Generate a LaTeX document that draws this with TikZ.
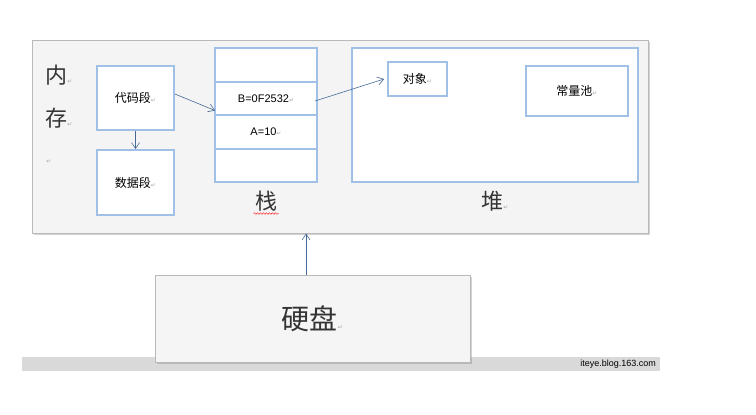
\documentclass[tikz,border=0pt]{standalone}
\usepackage{fontspec}
\setmainfont{Liberation Sans}
\newfontfamily\cjk{Noto Sans CJK SC}
\newfontfamily\dejavu{DejaVu Sans}
\usepackage{xcolor}
\usetikzlibrary{
arrows.meta,
positioning,
shadows,
decorations.pathmorphing
}

\definecolor{boxblue}{RGB}{160,192,232}
\definecolor{arrowblue}{RGB}{70,105,150}
\definecolor{panelgray}{RGB}{244,244,244}
\newcommand{\retmark}{\textcolor{gray!70}{\dejavu\fontsize{6}{6}\selectfont ↵}}

\begin{document}
\begin{tikzpicture}[
x=1pt,y=-1pt,
panel/.style={
draw=gray!55,
fill=panelgray,
line width=1pt,
drop shadow={shadow xshift=1.5pt,shadow yshift=-1.5pt,opacity=0.35}
},
bluebox/.style={
draw=boxblue,
line width=1.8pt,
fill=white,
font=\cjk\fontsize{12}{14}\selectfont,
align=center,
inner sep=0pt
},
cell/.style={
bluebox,
outer sep=0pt,
minimum width=102pt,
minimum height=33.5pt,
font=\fontsize{11}{13}\selectfont
},
biglabel/.style={font=\cjk\fontsize{22}{24}\selectfont,text=black!80},
arrow/.style={-{Straight Barb[length=6pt,width=8pt]},arrowblue,line width=0.6pt}
]
\useasboundingbox (0,0) rectangle (756,415);

% watermark bar
\fill[gray!30] (22,357) rectangle (660,371);
\node[anchor=east,font=\fontsize{9}{10}\selectfont,inner sep=0pt] (mark) at (656,364) {iteye.blog.163.com};

% memory
\node[panel,minimum width=616pt,minimum height=193pt,inner sep=0pt] (mem) at (340,136.5) {};
\node[biglabel] (nei) at (59,75) {内\retmark};
\node[biglabel] (cun) at (59,118) {存\retmark};
\node (blank) at (49,162) {\retmark};

\node[bluebox,minimum width=77pt,minimum height=64pt] (code) at (135.5,98) {代码段\retmark};
\node[bluebox,minimum width=77pt,minimum height=65pt] (data) at (135.5,182.5) {数据段\retmark};

% stack
\node[cell] (cell1) at (266,65) {};
\node[cell,below=0pt of cell1] (cell2) {B=0F2532\retmark};
\node[cell,below=0pt of cell2] (cell3) {A=10\retmark};
\node[cell,below=0pt of cell3] (cell4) {};
\node[biglabel,below=5pt of cell4] (stack) {栈};
\draw[red,decorate,decoration={snake,amplitude=0.8pt,segment length=3pt}]
(stack.south west) ++(2,-1) -- ([xshift=-2pt,yshift=1pt]stack.south east);

% heap
\node[bluebox,minimum width=286pt,minimum height=134pt] (heap) at (495,115) {};
\node[bluebox,minimum width=59pt,minimum height=34pt] (obj) at (417.5,79) {对象\retmark};
\node[bluebox,minimum width=102pt,minimum height=50pt] (pool) at (577,91) {常量池\retmark};
\node[biglabel,below=5pt of heap] (heaplbl) {堆\retmark};

% disk
\node[panel,fill=gray!8,minimum width=315pt,minimum height=87pt,
font=\cjk\fontsize{28}{30}\selectfont,text=black!80] (disk) at (312.5,318.5) {硬盘\retmark};

\draw[arrow] ([yshift=4pt]code.east) -- ([yshift=-12pt]cell2.west);
\draw[arrow] (code.south) -- (data.north);
\draw[arrow] ([xshift=-2pt]cell2.east |- 0,101) -- ([xshift=-3pt]obj.west);
\draw[arrow] (disk.north -| 306,0) -- (mem.south -| 306,0);

\end{tikzpicture}
\end{document}
